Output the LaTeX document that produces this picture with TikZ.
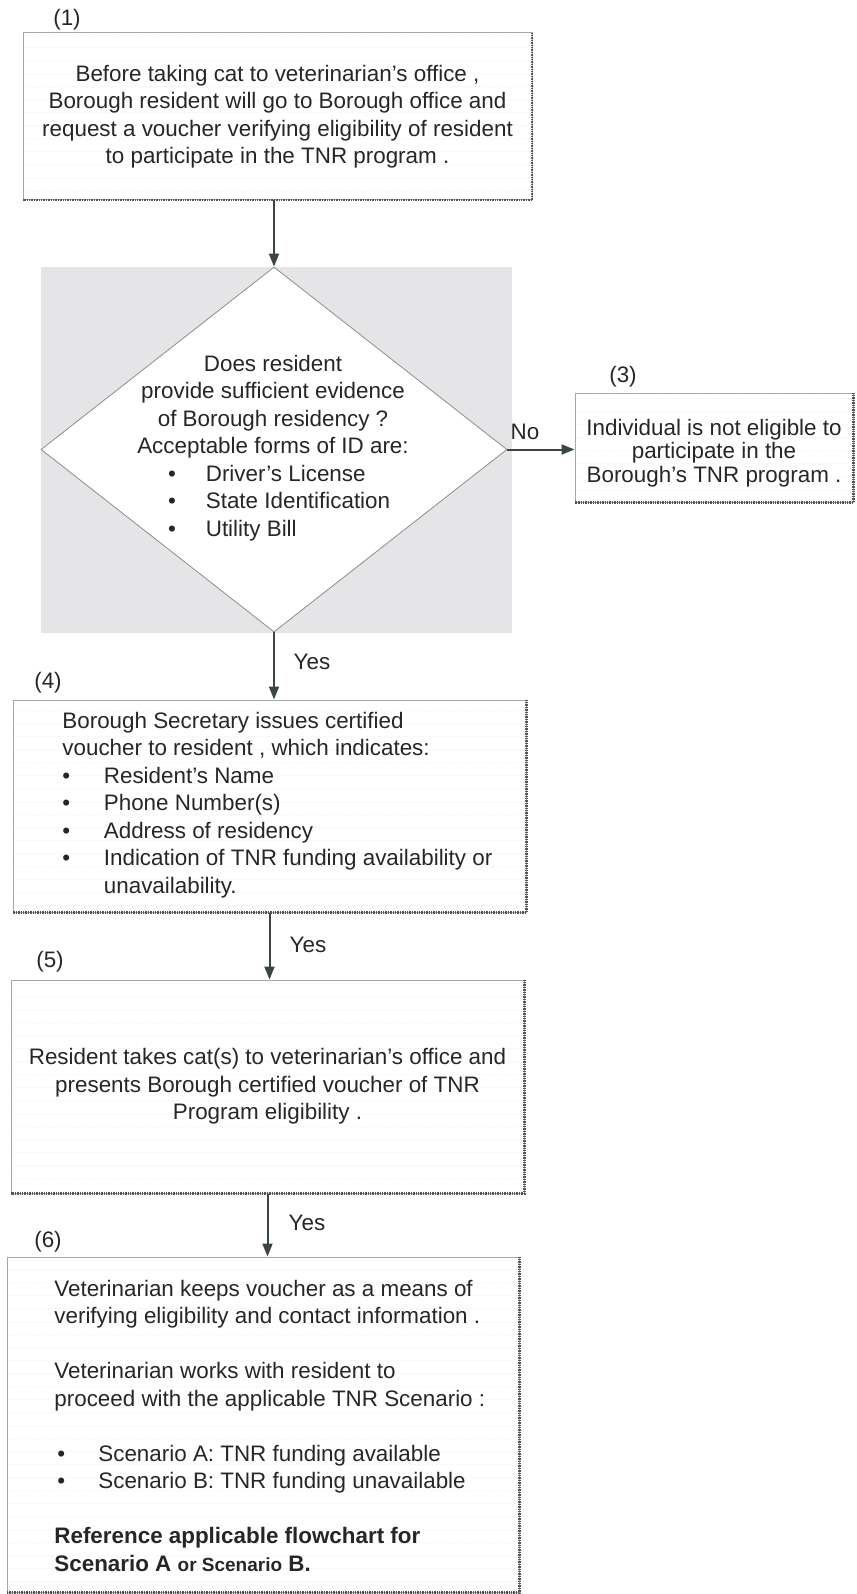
\documentclass[tikz,border=0pt]{standalone}
\usepackage{fontspec}
\setmainfont{Liberation Sans}
\usetikzlibrary{arrows.meta}
\usetikzlibrary{shapes.geometric}
\usetikzlibrary{patterns.meta}

\definecolor{inkgray}{HTML}{262626}
\definecolor{edgegray}{HTML}{A6A6A6}
\definecolor{shadegray}{HTML}{555555}
\definecolor{arrowgray}{HTML}{3B4545}
\definecolor{panelgray}{HTML}{E5E5E7}

\newcommand{\diabul}[1]{\makebox[105pt][l]{\textbullet\hspace{15pt}#1}}
\newcommand{\boxbul}[1]{\makebox[20.75pt][l]{\textbullet}#1}
\newcommand{\vetbul}[1]{\makebox[22pt][l]{\hspace{1.5pt}\textbullet}#1}

\tikzset{
  flowbox/.style={draw=edgegray, line width=0.5pt, inner sep=0pt, align=center,
    pattern={Lines[distance=6.5pt,line width=0.3pt]}, pattern color=black!7},
  boxshadow/.style={draw=shadegray, line width=1.1pt, dash pattern=on 0.7pt off 0.5pt},
  decision/.style={diamond, draw=black!45, line width=0.4pt, fill=white, inner sep=0pt},
  boxtext/.style={inner sep=0pt, align=left},
  steplabel/.style={inner sep=0pt},
  flowarrow/.style={draw=arrowgray, line width=1pt, -{Triangle[width=5pt,length=6.5pt]}},
}

\begin{document}
\begin{tikzpicture}[x=0.5pt, y=-0.5pt, font=\fontsize{11.2}{13.75}\selectfont,
    every node/.append style={text=inkgray}]
  \useasboundingbox (0,0) rectangle (856,1594);

  % grey panel behind the question
  \fill[panelgray] (41,267) rectangle (512,633);

  % steps
  \node[flowbox, minimum width=254.5pt, minimum height=83.5pt] (request) at (277.5,116.5)
    {Before taking cat to veterinarian's office ,\\
     Borough resident will go to Borough office and\\
     request a voucher verifying eligibility of resident\\
     to participate in the TNR program .};

  \node[decision, minimum width=233pt, minimum height=182.5pt] (residency) at (274,449.5) {};
  \node[boxtext, align=center] (residencytext) at (273,448)
    {Does resident\\
     provide sufficient evidence\\
     of Borough residency ?\\
     Acceptable forms of ID are:\\
     \diabul{Driver's License}\\
     \diabul{State Identification}\\
     \diabul{Utility Bill}};

  \node[flowbox, minimum width=139pt, minimum height=54.5pt] (notelig) at (714,447.5) {};
  \node[boxtext, align=center, font=\fontsize{11.2}{11.75}\selectfont] (noteligtext) at (714,453)
    {Individual is not eligible to\\
     participate in the\\
     Borough's TNR program .};

  \node[flowbox, minimum width=256.5pt, minimum height=106pt] (voucher) at (269.5,806) {};
  \node[boxtext, anchor=west] (vouchertext) at (62,805)
    {Borough Secretary issues certified\\
     voucher to resident , which indicates:\\
     \boxbul{Resident's Name}\\
     \boxbul{Phone Number(s)}\\
     \boxbul{Address of residency}\\
     \boxbul{Indication of TNR funding availability or}\\
     \hspace*{20.75pt}unavailability.};

  \node[flowbox, minimum width=256.5pt, minimum height=106.5pt] (visit) at (267.5,1086.5)
    {Resident takes cat(s) to veterinarian's office and\\
     presents Borough certified voucher of TNR\\
     Program eligibility .};

  \node[flowbox, minimum width=256pt, minimum height=167.5pt] (vetkeeps) at (263,1424.5) {};
  \node[boxtext, anchor=west] (vetkeepstext) at (54,1425.5)
    {Veterinarian keeps voucher as a means of\\
     verifying eligibility and contact information .\\[13.75pt]
     Veterinarian works with resident to\\
     proceed with the applicable TNR Scenario :\\[13.75pt]
     \vetbul{Scenario A: TNR funding available}\\
     \vetbul{Scenario B: TNR funding unavailable}\\[13.75pt]
     \textbf{Reference applicable flowchart for}\\
     \textbf{Scenario A {\fontsize{9.5}{13.75}\selectfont or Scenario} B.}};

  % shadow edges
  \foreach \b in {request,notelig,voucher,visit,vetkeeps}
    \draw[boxshadow] (\b.north east) -- (\b.south east) -- (\b.south west);

  % step numbers
  \node[steplabel] (num1) at (67,20) {(1)};
  \node[steplabel] (num3) at (623,377) {(3)};
  \node[steplabel] (num4) at (48,683) {(4)};
  \node[steplabel] (num5) at (50,962) {(5)};
  \node[steplabel] (num6) at (48,1242) {(6)};

  % connectors
  \draw[flowarrow] (residency.north |- request.south) -- (residency.north);
  \draw[flowarrow] (residency.east) -- (residency.east -| notelig.west);
  \draw[flowarrow] (residency.south) -- (residency.south |- voucher.north);
  \draw[flowarrow] (voucher.south) -- (voucher.south |- visit.north);
  \draw[flowarrow] (visit.south) -- (visit.south |- vetkeeps.north);

  \node[steplabel] (no) at (525,432) {No};
  \node[steplabel] (yes4) at (312,662) {Yes};
  \node[steplabel] (yes5) at (308,945) {Yes};
  \node[steplabel] (yes6) at (307,1223) {Yes};
\end{tikzpicture}
\end{document}
